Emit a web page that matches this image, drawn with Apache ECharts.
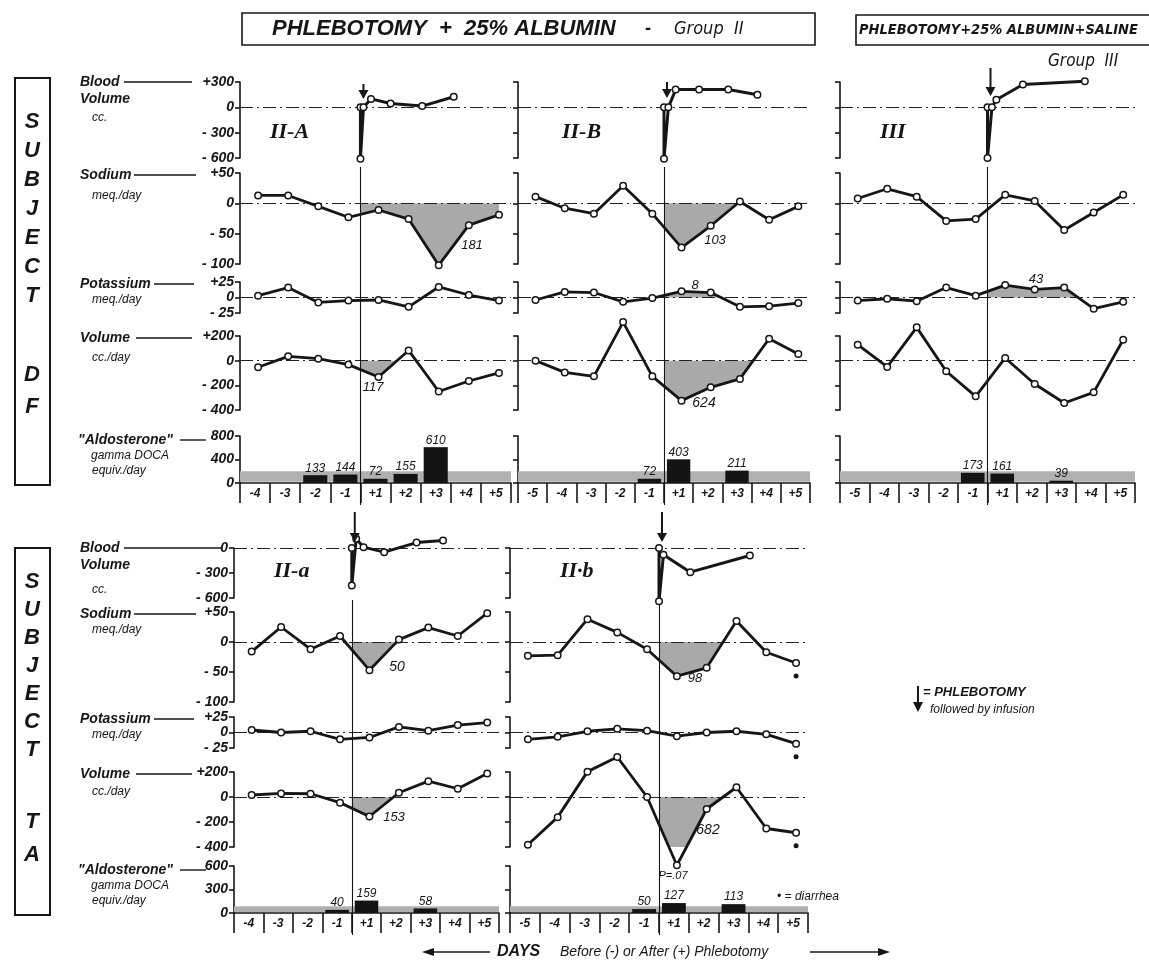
<!DOCTYPE html>
<html><head><meta charset="utf-8">
<script src="https://cdn.jsdelivr.net/npm/echarts@6/dist/echarts.min.js"></script>
<style>html,body{margin:0;padding:0;background:#fff}#c{width:1149px;height:960px}</style>
</head><body><div id="c"></div>
<script>
// ---------------- DATA ----------------
const daysA = [-4,-3,-2,-1,1,2,3,4,5];
const daysB = [-5,-4,-3,-2,-1,1,2,3,4,5];
const dayLabelsA = ['-4','-3','-2','-1','+1','+2','+3','+4','+5'];
const dayLabelsB = ['-5','-4','-3','-2','-1','+1','+2','+3','+4','+5'];

// Subject DF, Group II-A
const bvT_IIA = [0, 0, 0.1, 0.35, 1.0, 2.05, 3.1];
const bv_IIA  = [0, -610, 0, 100, 45, 15, 125];
const na_IIA  = [13, 13, -5, -23, -11, -26, -102, -36, -19];
const k_IIA   = [3, 16, -8, -5, -4, -15, 17, 4, -5];
const vol_IIA = [-53, 35, 16, -32, -133, 83, -250, -165, -99];
const aldo_IIA = [null, null, 133, 144, 72, 155, 610, null, null];

// Subject DF, Group II-B
const bvT_IIB = [0, 0, 0.15, 0.4, 1.2, 2.2, 3.2];
const bv_IIB  = [0, -610, 0, 210, 210, 210, 150];
const na_IIB  = [11, -8, -17, 29, -17, -73, -37, 3, -27, -5];
const k_IIB   = [-4, 9, 8, -7, -1, 10, 8, -15, -14, -9];
const vol_IIB = [0, -95, -127, 313, -127, -324, -216, -148, 178, 54];
const aldo_IIB = [null, null, null, null, 72, 403, null, 211, null, null];

// Subject DF, Group III
const bvT_III = [0, 0, 0.15, 0.3, 1.2, 3.3];
const bv_III  = [0, -600, 0, 90, 270, 310];
const na_III  = [8, 24, 11, -29, -26, 14, 4, -44, -15, 14];
const k_III   = [-5, -2, -6, 16, 3, 20, 13, 16, -18, -7];
const vol_III = [130, -51, 270, -86, -289, 22, -189, -343, -257, 170];
const aldo_III = [null, null, null, null, 173, 161, null, 39, null, null];

// Subject TA, Group II-a
const bvT_IIa = [0, 0, 0.15, 0.4, 1.1, 2.2, 3.1];
const bv_IIa  = [0, -450, 110, 10, -50, 65, 90];
const na_IIa  = [-16, 25, -12, 10, -47, 4, 24, 10, 48];
const k_IIa   = [4, 0, 2, -11, -8, 9, 3, 12, 16];
const vol_IIa = [16, 29, 26, -45, -156, 34, 127, 66, 188];
const aldo_IIa = [null, null, null, 40, 159, null, 58, null, null];

// Subject TA, Group II-b
const bvT_IIb = [0, 0, 0.15, 1.05, 3.05];
const bv_IIb  = [0, -640, -80, -290, -90];
const na_IIb  = [-23, -22, 38, 16, -12, -57, -43, 35, -17, -35];
const k_IIb   = [-11, -7, 2, 6, 3, -6, 0, 2, -3, -18];
const vol_IIb = [-382, -161, 203, 320, 0, -546, -96, 78, -252, -286];
const aldo_IIb = [null, null, null, null, 50, 127, null, 113, null, null];

// ---------------- LAYOUT ----------------
const FONT = 'Liberation Sans';
const NARROW = "'DejaVu Sans Condensed', 'Liberation Sans'";
const INK = '#161616';
const rowsTop = {
  bv:{top:82,bottom:158,min:-600,max:300,iv:300},
  na:{top:173,bottom:264,min:-100,max:50,iv:50},
  k:{top:282,bottom:313,min:-25,max:25,iv:25},
  vol:{top:336,bottom:410,min:-400,max:200,iv:200},
  al:{top:436,bottom:483,min:0,max:800,iv:400},
  phleb:{top:167,bottom:505}
};
const rowsBot = {
  bv:{top:548,bottom:598,min:-600,max:0,iv:300},
  na:{top:612,bottom:702,min:-100,max:50,iv:50},
  k:{top:717,bottom:748,min:-25,max:25,iv:25},
  vol:{top:772,bottom:847,min:-400,max:200,iv:200},
  al:{top:866,bottom:913,min:0,max:600,iv:300},
  phleb:{top:600,bottom:935}
};
const panels = [
  {name:'II-A', left:240, right:511, x0:-4, x1:5, rows:rowsTop, labels:true, days:daysA, dayLabels:dayLabelsA,
   bvT:bvT_IIA, bv:bv_IIA, na:na_IIA, k:k_IIA, vol:vol_IIA, aldo:aldo_IIA, band:[22,200], shade:{na:-1, vol:-1}, arrow:[84,99]},
  {name:'II-B', left:518, right:810, x0:-5, x1:5, rows:rowsTop, labels:false, days:daysB, dayLabels:dayLabelsB,
   bvT:bvT_IIB, bv:bv_IIB, na:na_IIB, k:k_IIB, vol:vol_IIB, aldo:aldo_IIB, band:[22,200], shade:{na:-1, k:1, vol:-1}, arrow:[82,98]},
  {name:'III', left:840, right:1135, x0:-5, x1:5, rows:rowsTop, labels:false, days:daysB, dayLabels:dayLabelsB,
   bvT:bvT_III, bv:bv_III, na:na_III, k:k_III, vol:vol_III, aldo:aldo_III, band:[22,200], shade:{k:1}, arrow:[68,96]},
  {name:'II-a', left:234, right:499, x0:-4, x1:5, rows:rowsBot, labels:true, days:daysA, dayLabels:dayLabelsA,
   bvT:bvT_IIa, bv:bv_IIa, na:na_IIa, k:k_IIa, vol:vol_IIa, aldo:aldo_IIa, band:[12,85], shade:{na:-1, vol:-1}, arrow:[512,542]},
  {name:'II-b', left:510, right:808, x0:-5, x1:5, rows:rowsBot, labels:false, days:daysB, dayLabels:dayLabelsB,
   bvT:bvT_IIb, bv:bv_IIb, na:na_IIb, k:k_IIb, vol:vol_IIb, aldo:aldo_IIb, band:[12,85], shade:{na:-1, vol:-1}, arrow:[512,542], asterisk:true}
];

// ---------------- BUILD ----------------
const grids=[], xAxes=[], yAxes=[], series=[], graphics=[];
const xpos = d => (d<0 ? d+0.5 : d-0.5) + 0.1;
const pairs = (days, vals) => days.map((d,i)=>[xpos(d), vals[i]]);
const fmt = v => v>0 ? '+'+v : (v<0 ? '- '+(-v) : '0');
function shade(pts, sign){
  let i=0;
  while(i<pts.length-1 && pts[i+1][0] <= 0) i++;
  const a=pts[i], b=pts[i+1];
  const v0 = a[1] + (b[1]-a[1])*(0-a[0])/(b[0]-a[0]);
  const out=[[0, v0]];
  for(let j=i+1;j<pts.length;j++){
    const p=pts[j];
    if(p[1]*sign>0){ out.push(p); }
    else { const q=out[out.length-1]; const xc=q[0]+(p[0]-q[0])*q[1]/(q[1]-p[1]); out.push([xc,0]); break; }
  }
  return out;
}
const labelFont = {fontFamily:FONT, fontStyle:'italic', fontWeight:'bold', fontSize:14, color:INK};
function yAxisFor(gi, r, show, isAldo){
  return {gridIndex:gi, type:'value', min:r.min, max:r.max, interval:r.iv,
    axisLine:{show:true, onZero:false, lineStyle:{color:INK, width:1.6}},
    axisTick:{show:true, length:5, lineStyle:{color:INK, width:1.6}},
    axisLabel:Object.assign({show:show, margin:6, formatter: isAldo ? (v=>String(v)) : fmt}, labelFont),
    splitLine:{show:false}};
}
panels.forEach(p=>{
  const R=p.rows, w=p.right-p.left;
  ['bv','na','k','vol'].forEach(key=>{
    const r=R[key], gi=grids.length;
    grids.push({left:p.left, top:r.top, width:w, height:r.bottom-r.top});
    xAxes.push({gridIndex:gi, type:'value', min:p.x0, max:p.x1, show:false});
    yAxes.push(yAxisFor(gi, r, p.labels, false));
    const data = key==='bv' ? p.bvT.map((t,i)=>[t, p.bv[i]]) : pairs(p.days, p[key]);
    const s = {type:'line', xAxisIndex:gi, yAxisIndex:gi, data, clip:false, symbol:'circle', symbolSize:6.5,
      itemStyle:{color:'#fff', borderColor:INK, borderWidth:1.5}, lineStyle:{color:INK, width:key==='bv'?3:2.8}, z:5,
      markLine:{silent:true, symbol:'none', label:{show:false}, lineStyle:{color:'#222', width:1.2, type:[13,4,2,4]}, data:[{yAxis:0}]}};
    if(p.asterisk && key!=='bv'){
      s.markPoint = {silent:true, data:[{coord:data[data.length-1], symbol:'circle', symbolSize:5, symbolOffset:[0,13], itemStyle:{color:INK}, label:{show:false}}]};
    }
    series.push(s);
    if(p.shade[key]){
      series.push({type:'line', xAxisIndex:gi, yAxisIndex:gi, data:shade(data, p.shade[key]), symbol:'none', silent:true,
        lineStyle:{width:0}, areaStyle:{color:'#a9a9a9', opacity:1}, z:2});
    }
  });
  // aldosterone bars with day axis
  const r=R.al, gi=grids.length;
  grids.push({left:p.left, top:r.top, width:w, height:r.bottom-r.top});
  xAxes.push({gridIndex:gi, type:'category', data:p.dayLabels, boundaryGap:true, position:'bottom',
    axisLine:{show:true, lineStyle:{color:INK, width:1.6}},
    axisTick:{show:true, length:20, interval:0, lineStyle:{color:INK, width:1.6}},
    axisLabel:{interval:0, margin:5, fontFamily:FONT, fontStyle:'italic', fontWeight:'bold', fontSize:12, color:INK}});
  yAxes.push(yAxisFor(gi, r, p.labels, true));
  series.push({type:'bar', xAxisIndex:gi, yAxisIndex:gi, data:p.aldo, barWidth:'80%', itemStyle:{color:'#141414'}, z:4,
    label:{show:true, position:'top', distance:1, fontFamily:FONT, fontStyle:'italic', fontSize:12, color:INK}});
  series.push({type:'line', xAxisIndex:gi, yAxisIndex:gi, data:[], silent:true, z:1,
    markArea:{silent:true, itemStyle:{color:'#b0b0b0'}, data:[[{yAxis:p.band[0]},{yAxis:p.band[1]}]]}});
  // phlebotomy line overlay
  const g2=grids.length;
  grids.push({left:p.left, top:R.phleb.top, width:w, height:R.phleb.bottom-R.phleb.top});
  xAxes.push({gridIndex:g2, type:'value', min:p.x0, max:p.x1, show:false});
  yAxes.push({gridIndex:g2, type:'value', min:0, max:1, show:false});
  series.push({type:'line', xAxisIndex:g2, yAxisIndex:g2, data:[[p.x0,0]], symbol:'none', lineStyle:{opacity:0}, silent:true, z:3,
    markLine:{silent:true, symbol:'none', label:{show:false}, lineStyle:{color:INK, width:1.1, type:'solid'}, data:[{xAxis:0}]}});
  // arrow above phlebotomy
  const px = p.left + (0-p.x0)/(p.x1-p.x0)*w + 3;
  graphics.push({type:'line', silent:true, z:50, shape:{x1:px,y1:p.arrow[0],x2:px,y2:p.arrow[1]-5}, style:{stroke:INK, lineWidth:2}});
  graphics.push({type:'polygon', silent:true, z:50, shape:{points:[[px-5,p.arrow[1]-9],[px+5,p.arrow[1]-9],[px,p.arrow[1]]]}, style:{fill:INK}});
});

// ---------------- ANNOTATIONS ----------------
function T(text, x, y, size, o){
  o=o||{};
  const al=o.align||'left';
  graphics.push({type:'text', silent:true, z:60, style:{text, x, y, fill:INK,
    font:(o.style||'italic')+' '+(o.weight||'bold')+' '+size+'px '+(o.family||FONT),
    align:al, textAlign:al, verticalAlign:'middle', textVerticalAlign:'middle'}});
}
function L(x1,y1,x2,y2,w){ graphics.push({type:'line', silent:true, z:60, shape:{x1,y1,x2,y2}, style:{stroke:INK, lineWidth:w||1.4}}); }
function Box(x,y,w,h,lw){ graphics.push({type:'rect', silent:true, z:60, shape:{x,y,width:w,height:h}, style:{fill:'none', stroke:INK, lineWidth:lw||1.8}}); }

// headers
Box(242,13,573,32,1.6);
T('PHLEBOTOMY  +  25% ALBUMIN', 272, 29, 22);
T('-', 645, 29, 18);
T('Group  II', 674, 29, 18, {weight:'normal', family:NARROW});
Box(856,15,300,30,1.6);
T('PHLEBOTOMY+25% ALBUMIN+SALINE', 859, 30, 14.5, {family:NARROW});
T('Group  III', 1048, 62, 17, {weight:'normal', family:NARROW});

// subject boxes
Box(15,78,35,407,2);
[['S',122],['U',151],['B',180],['J',209],['E',238],['C',267],['T',296],['D',375],['F',407]].forEach(a=>T(a[0],32,a[1],22,{align:'center'}));
Box(15,548,35,367,2);
[['S',582],['U',610],['B',638],['J',666],['E',694],['C',722],['T',750],['T',822],['A',855]].forEach(a=>T(a[0],32,a[1],22,{align:'center'}));

// row labels
function rowLabels(R, bot){
  T('Blood', 80, R.bv.top, 14); L(124, R.bv.top, bot?222:192, R.bv.top);
  T('Volume', 80, R.bv.top+17, 14); T('cc.', 92, R.bv.top+(bot?42:36), 12, {weight:'normal'});
  T('Sodium', 80, R.na.top+2, 14); L(134, R.na.top+2, 196, R.na.top+2);
  T('meq./day', 92, R.na.top+(bot?18:23), 12, {weight:'normal'});
  T('Potassium', 80, R.k.top+2, 14); L(154, R.k.top+2, 194, R.k.top+2);
  T('meq./day', 92, R.k.top+18, 12, {weight:'normal'});
  T('Volume', 80, R.vol.top+2, 14); L(136, R.vol.top+2, 192, R.vol.top+2);
  T('cc./day', 92, R.vol.top+(bot?20:22), 12, {weight:'normal'});
  T('"Aldosterone"', 78, R.al.top+4, 14); L(180, R.al.top+4, 206, R.al.top+4);
  T('gamma DOCA', 91, R.al.top+20, 12, {weight:'normal'});
  T('equiv./day', 92, R.al.top+35, 12, {weight:'normal'});
}
rowLabels(rowsTop, false);
rowLabels(rowsBot, true);

// panel names
T('II-A', 270, 132, 22, {family:'Liberation Serif'});
T('II-B', 562, 132, 22, {family:'Liberation Serif'});
T('III', 880, 132, 22, {family:'Liberation Serif'});
T('II-a', 274, 571, 22, {family:'Liberation Serif'});
T('II·b', 560, 571, 22, {family:'Liberation Serif'});

// area totals
T('181', 472, 245, 13, {weight:'normal', align:'center'});
T('117', 373, 387, 13, {weight:'normal', align:'center'});
T('103', 715, 240, 13, {weight:'normal', align:'center'});
T('8', 695, 285, 13, {weight:'normal', align:'center'});
T('624', 704, 403, 14, {weight:'normal', align:'center'});
T('43', 1036, 279, 13, {weight:'normal', align:'center'});
T('50', 397, 667, 14, {weight:'normal', align:'center'});
T('98', 695, 678, 13, {weight:'normal', align:'center'});
T('153', 394, 817, 13, {weight:'normal', align:'center'});
T('682', 708, 830, 14, {weight:'normal', align:'center'});
T('P=.07', 673, 876, 11, {weight:'normal', align:'center'});
T('\u2022 = diarrhea', 777, 897, 12, {weight:'normal'});

// legend
graphics.push({type:'line', silent:true, z:60, shape:{x1:918,y1:686,x2:918,y2:705}, style:{stroke:INK, lineWidth:2}});
graphics.push({type:'polygon', silent:true, z:60, shape:{points:[[913,702],[923,702],[918,712]]}, style:{fill:INK}});
T('= PHLEBOTOMY', 923, 692, 13);
T('followed by infusion', 930, 710, 12, {weight:'normal'});

// bottom axis title
L(430, 952, 490, 952, 1.4);
graphics.push({type:'polygon', silent:true, z:60, shape:{points:[[422,952],[434,948],[434,956]]}, style:{fill:INK}});
T('DAYS', 497, 952, 16);
T('Before (-) or After (+) Phlebotomy', 560, 952, 14, {weight:'normal'});
L(810, 952, 882, 952, 1.4);
graphics.push({type:'polygon', silent:true, z:60, shape:{points:[[890,952],[878,948],[878,956]]}, style:{fill:INK}});

const chart = echarts.init(document.getElementById('c'));
chart.setOption({
  animation:false,
  backgroundColor:'#fff',
  grid:grids, xAxis:xAxes, yAxis:yAxes, series:series,
  graphic:{elements:graphics}
});
</script></body></html>
